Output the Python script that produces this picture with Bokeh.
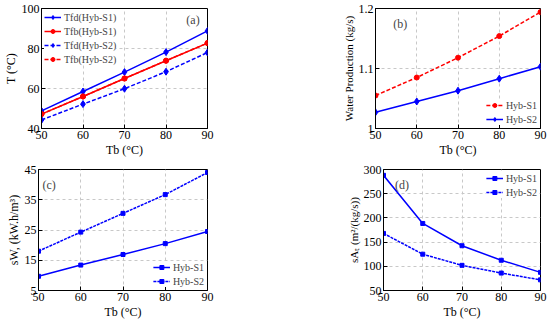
from bokeh.plotting import figure
from bokeh.layouts import row, column
from bokeh.models import Legend, LegendItem, Label, FixedTicker, Range1d
from bokeh.embed import file_html
from bokeh.resources import INLINE

# ---------------- data ----------------
Tb = [50, 60, 70, 80, 90]

# (a) temperatures
Tfd_S1 = [48.8, 58.5, 68.2, 78.2, 88.8]
Tfb_S1 = [47.2, 56.0, 65.0, 73.9, 82.7]
Tfd_S2 = [44.3, 52.2, 59.9, 68.4, 78.0]
Tfb_S2 = [47.2, 56.0, 65.0, 73.9, 82.7]

# (b) water production (kg/s)
WP_S1 = [1.055, 1.085, 1.118, 1.154, 1.194]
WP_S2 = [1.027, 1.045, 1.063, 1.083, 1.103]

# (c) specific work
sW_S1 = [9.7, 13.4, 16.9, 20.5, 24.5]
sW_S2 = [18.0, 24.3, 30.5, 36.7, 44.0]

# (d) specific area
sA_S1 = [288, 188.5, 142.5, 112.5, 87.5]
sA_S2 = [168, 125, 102, 86, 72]

x_ticks = [50, 60, 70, 80, 90]
a_ticks = [40, 60, 80, 100]
b_ticks = [1, 1.1, 1.2]
c_ticks = [5, 15, 25, 35, 45]
d_ticks = [50, 100, 150, 200, 250, 300]

FONT = "Liberation Serif"
BLUE = "#0000ff"
RED = "#ff0000"


def mk(width, height, yr, yticks, ylabel, bl, br, bt, bb, ylsize="12px"):
    p = figure(width=width, height=height, x_range=Range1d(50, 90),
               y_range=Range1d(*yr), output_backend="svg", toolbar_location=None,
               min_border_left=bl, min_border_right=br, min_border_top=bt,
               min_border_bottom=bb)
    p.xaxis.ticker = FixedTicker(ticks=x_ticks)
    p.yaxis.ticker = FixedTicker(ticks=yticks)
    p.outline_line_color = "black"
    p.outline_line_alpha = 1
    p.outline_line_width = 1
    p.grid.grid_line_dash = "3 3"
    p.grid.grid_line_color = "#c8c8c8"
    for ax in (p.xaxis[0], p.yaxis[0]):
        ax.major_tick_in = 4
        ax.major_tick_out = 0
        ax.minor_tick_line_color = None
        ax.axis_line_color = "black"
        ax.major_tick_line_color = "black"
        ax.major_label_text_font = FONT
        ax.major_label_text_font_size = "12px"
        ax.major_label_text_color = "black"
        ax.major_label_standoff = 2
        ax.axis_label_text_font = FONT
        ax.axis_label_text_font_size = "12px"
        ax.axis_label_text_font_style = "normal"
        ax.axis_label_text_color = "black"
        ax.axis_label_standoff = 1
    p.yaxis.axis_label_text_font_size = ylsize
    p.xaxis.axis_label = "Tb (°C)"
    p.yaxis.axis_label = ylabel
    p.background_fill_color = "white"
    p.border_fill_color = "white"
    return p


def legend(p, items, loc):
    lg = Legend(items=items, location=loc, label_text_font=FONT,
                label_text_font_size="10px", glyph_width=17, glyph_height=10,
                label_height=12, spacing=2, padding=2, margin=3,
                border_line_color=None, background_fill_color="white",
                background_fill_alpha=1, label_standoff=3)
    p.add_layout(lg, "center")


def tag(p, x, y, t):
    p.add_layout(Label(x=x, y=y, text=t, text_font=FONT, text_font_size="12px",
                       text_align="center", text_baseline="middle"))


# ---------------- (a) ----------------
pa = mk(300, 162, (40, 100), a_ticks, "T (°C)", 38, 93, 6, 31)
l1 = pa.line(Tb, Tfd_S1, color=BLUE, line_width=1.5)
m1 = pa.scatter(Tb, Tfd_S1, marker="diamond", size=7, color=BLUE)
l2 = pa.line(Tb, Tfb_S1, color=RED, line_width=1.5)
m2 = pa.scatter(Tb, Tfb_S1, marker="circle", size=5, color=RED)
l3 = pa.line(Tb, Tfd_S2, color=BLUE, line_width=1.5, line_dash="4 2")
m3 = pa.scatter(Tb, Tfd_S2, marker="diamond", size=7, color=BLUE)
l4 = pa.line(Tb, Tfb_S2, color=RED, line_width=1.5, line_dash="4 2")
m4 = pa.scatter(Tb, Tfb_S2, marker="circle", size=5, color=RED)
legend(pa, [LegendItem(label="Tfd(Hyb-S1)", renderers=[l1, m1]),
            LegendItem(label="Tfb(Hyb-S1)", renderers=[l2, m2]),
            LegendItem(label="Tfd(Hyb-S2)", renderers=[l3, m3]),
            LegendItem(label="Tfb(Hyb-S2)", renderers=[l4, m4])], "top_left")
tag(pa, 86.5, 94.5, "(a)")

# ---------------- (b) ----------------
pb = mk(250, 162, (1.0, 1.2), b_ticks, "Water Production (kg/s)", 75, 10, 8, 34, "11px")
pb.yaxis.major_label_overrides = {1: "1", 1.1: "1.1", 1.2: "1.2"}
bl1 = pb.line(Tb, WP_S1, color=RED, line_width=1.5, line_dash="4 2")
bm1 = pb.scatter(Tb, WP_S1, marker="circle", size=5, color=RED)
bl2 = pb.line(Tb, WP_S2, color=BLUE, line_width=1.5)
bm2 = pb.scatter(Tb, WP_S2, marker="diamond", size=7, color=BLUE)
legend(pb, [LegendItem(label="Hyb-S1", renderers=[bl1, bm1]),
            LegendItem(label="Hyb-S2", renderers=[bl2, bm2])], "bottom_right")
tag(pb, 56, 1.175, "(b)")

# ---------------- (c) ----------------
pc = mk(300, 160, (5, 45), c_ticks, "sW, (kW.h/m³)", 38, 93, 7, 32)
cl1 = pc.line(Tb, sW_S1, color=BLUE, line_width=1.5)
cm1 = pc.scatter(Tb, sW_S1, marker="square", size=4, color=BLUE)
cl2 = pc.line(Tb, sW_S2, color=BLUE, line_width=1.5, line_dash="3 1")
cm2 = pc.scatter(Tb, sW_S2, marker="square", size=4, color=BLUE)
legend(pc, [LegendItem(label="Hyb-S1", renderers=[cl1, cm1]),
            LegendItem(label="Hyb-S2", renderers=[cl2, cm2])], "bottom_right")
tag(pc, 52.5, 39.8, "(c)")

# ---------------- (d) ----------------
pd_ = mk(250, 160, (50, 300), d_ticks, "sAₜ (m²/(kg/s))", 83, 10, 7, 32, "11px")
dl1 = pd_.line(Tb, sA_S1, color=BLUE, line_width=1.5)
dm1 = pd_.scatter(Tb, sA_S1, marker="square", size=4, color=BLUE)
dl2 = pd_.line(Tb, sA_S2, color=BLUE, line_width=1.5, line_dash="3 1")
dm2 = pd_.scatter(Tb, sA_S2, marker="square", size=4, color=BLUE)
legend(pd_, [LegendItem(label="Hyb-S1", renderers=[dl1, dm1]),
             LegendItem(label="Hyb-S2", renderers=[dl2, dm2])], "top_right")
tag(pd_, 54.7, 268, "(d)")

layout = column(row(pa, pb), row(pc, pd_))
open("out.html", "w").write(file_html(layout, INLINE))
